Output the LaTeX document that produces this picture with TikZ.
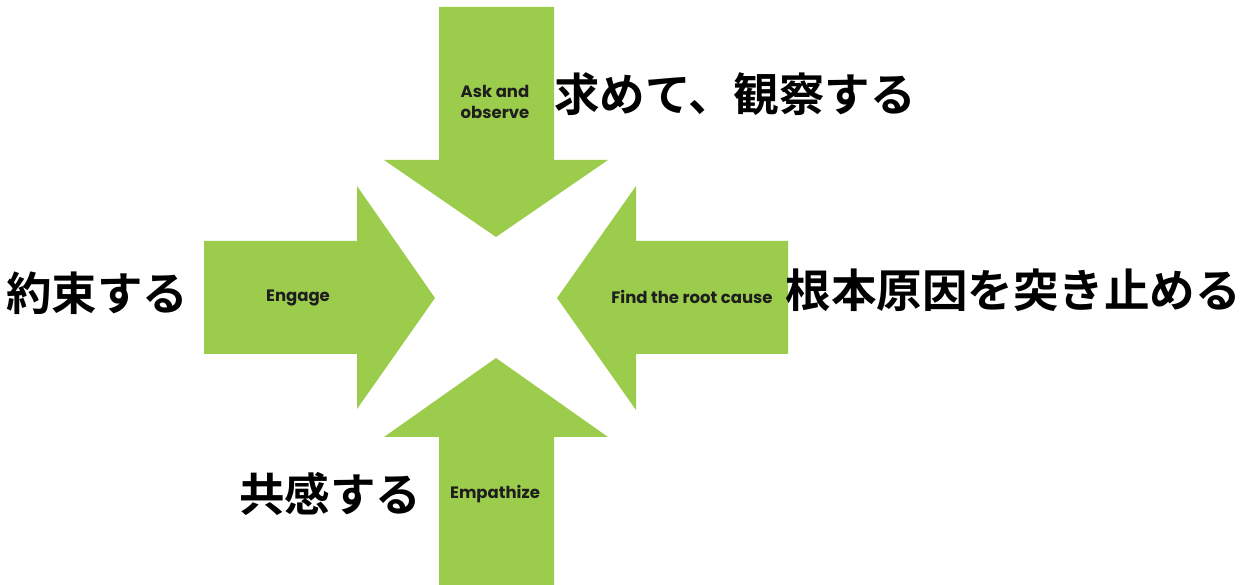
\documentclass[tikz,border=0pt]{standalone}
\usepackage{fontspec}
\setmainfont{Poppins}
\newfontfamily\jpfont{Noto Sans CJK JP}[BoldFont={Noto Sans CJK JP Bold}]
\definecolor{arrowgreen}{RGB}{155,204,76}
\definecolor{labelink}{RGB}{30,30,30}
\begin{document}
\begin{tikzpicture}[x=1pt,y=-1pt,
  arrowshape/.style={fill=arrowgreen,draw=none},
  enlabel/.style={font=\bfseries\fontsize{16.5}{21}\selectfont, text=labelink, inner sep=0pt, align=center},
  jplabel/.style={font=\jpfont\bfseries\fontsize{45.5}{50}\selectfont, text=black, inner sep=0pt}]
\useasboundingbox (0,0) rectangle (1254,585);
% arrows
\path[arrowshape] (439,7) -- (554,7) -- (554,160) -- (608,160) -- (496,237) -- (384,160) -- (439,160) -- cycle;
\path[arrowshape] (204,241) -- (357,241) -- (357,186) -- (435,298) -- (357,409) -- (357,354) -- (204,354) -- cycle;
\path[arrowshape] (788,241) -- (636,241) -- (636,186) -- (557,298) -- (636,410) -- (636,354) -- (788,354) -- cycle;
\path[arrowshape] (439,585) -- (554,585) -- (554,437) -- (608,437) -- (496,358) -- (384,437) -- (439,437) -- cycle;
% english labels
\node[enlabel] (ask) at (495,102) {Ask and\\observe};
\node[enlabel] (engage) at (298,298) {Engage};
\node[enlabel] (root) at (692,297) {Find the root cause};
\node[enlabel] (emp) at (495,494) {Empathize};
% japanese labels
\node[jplabel] (jtop) at (735,94) {求めて、観察する};
\node[jplabel] (jleft) at (97,293) {約束する};
\node[jplabel] (jright) at (1013,290) {根本原因を突き止める};
\node[jplabel] (jbottom) at (330,494) {共感する};
\end{tikzpicture}
\end{document}
